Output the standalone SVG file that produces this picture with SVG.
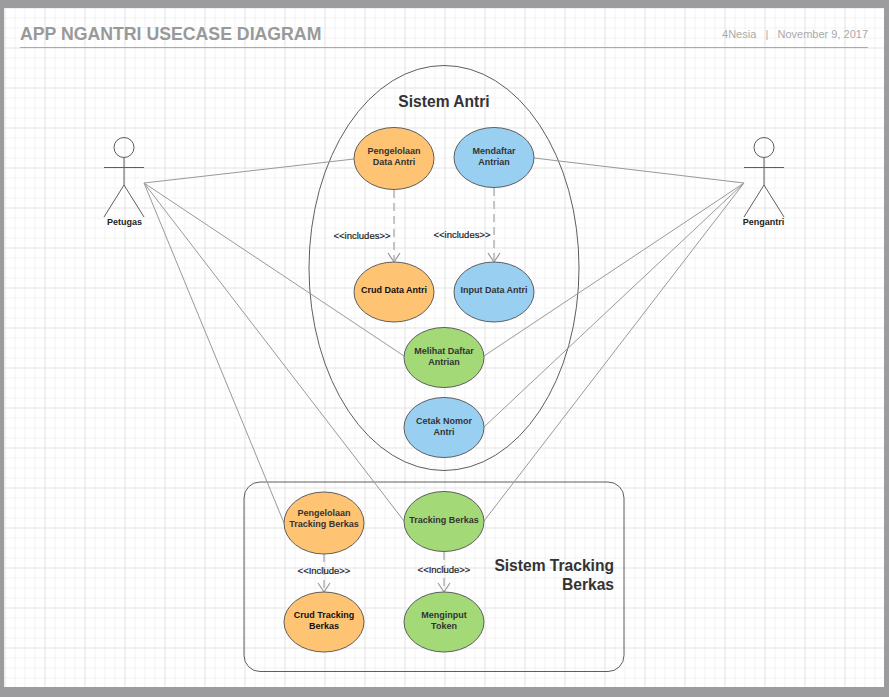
<svg xmlns="http://www.w3.org/2000/svg" width="889" height="697" viewBox="0 0 889 697">
<style>
text{font-family:"Liberation Sans",Arial,sans-serif;text-anchor:middle;fill:#333}
.u{font-size:9px;font-weight:bold}
.l{font-size:9.5px;fill:#222;stroke:#222;stroke-width:.2}
.e{stroke:#5e5e5e;stroke-width:1}
.o{fill:#ffc374}.b{fill:#99d0f2}.g{fill:#a3d977}
.c{stroke:#999;stroke-width:1;fill:none}
.d{stroke:#b8b8b8;stroke-width:1.6;stroke-dasharray:8 5;fill:none}
.a{stroke:#999;stroke-width:1.2;fill:none}
.s{stroke:#5e5e5e;stroke-width:1;fill:none}
.t{font-size:15.6px;font-weight:bold}
</style>
<defs>
<pattern id="minor" width="10" height="10" patternUnits="userSpaceOnUse" x="4.5" y="7.5"><path d="M0 0H10M0 0V10" stroke="#e6e6e6" stroke-width="1" fill="none"/></pattern>
<pattern id="major" width="40" height="40" patternUnits="userSpaceOnUse" x="4.5" y="7.5"><path d="M0 0H40M0 0V40" stroke="#d8d8d8" stroke-width="1" fill="none"/></pattern>
</defs>
<rect width="889" height="697" fill="#9c9c9e"/>
<rect x="4" y="8" width="880" height="679" fill="#fff"/>
<rect x="4" y="8" width="880" height="679" fill="url(#minor)"/>
<rect x="4" y="8" width="880" height="679" fill="url(#major)"/>
<g id="header">
<text x="20" y="39.500" style="text-anchor:start;font-size:17.7px;font-weight:bold;fill:#999">APP NGANTRI USECASE DIAGRAM</text>
<text x="868" y="38" style="text-anchor:end;font-size:11px;fill:#aaa" xml:space="preserve">4Nesia   |   November 9, 2017</text>
<path d="M20 47.5H868" stroke="#aaa" stroke-width="1"/>
</g>
<g id="sistem-antri">
<ellipse cx="444" cy="268" rx="135" ry="202.500" class="s"/>
<text class="t" x="444" y="106.500">Sistem Antri</text>
</g>
<g id="sistem-tracking">
<rect x="244" y="482" width="380" height="189.500" rx="16" class="s"/>
<text class="t" x="614" y="571" style="text-anchor:end">Sistem Tracking</text>
<text class="t" x="614" y="590" style="text-anchor:end">Berkas</text>
</g>
<g id="connectors">
<path class="c" d="M144 183L354 159M144 183L404 356M144 183L404 521M144 183L284 523"/>
<path class="c" d="M744 183L534 158M744 183L484 356M744 183L484 427M744 183L484 521"/>
<path class="d" d="M394 190V260M494 188V260M324 554V590M444 552V590"/>
<path class="a" d="M388 253L394 262L400 253M488 253L494 262L500 253M318 583L324 592L330 583M438 583L444 592L450 583"/>
</g>
<g id="label-includes-1"><text class="l" x="362" y="239">&lt;&lt;includes&gt;&gt;</text></g>
<g id="label-includes-2"><text class="l" x="462" y="238">&lt;&lt;includes&gt;&gt;</text></g>
<g id="label-include-1"><text class="l" x="324" y="574">&lt;&lt;Include&gt;&gt;</text></g>
<g id="label-include-2"><text class="l" x="444" y="573">&lt;&lt;Include&gt;&gt;</text></g>
<g id="petugas">
<circle cx="124" cy="147.500" r="10" class="s" fill="#fff"/>
<path class="s" d="M104 167.500H144M124 157.500V185M124 185L104 217M124 185L144 217"/>
<text x="124.500" y="224.500" style="font-size:9px;font-weight:bold;fill:#222">Petugas</text>
</g>
<g id="pengantri">
<circle cx="764" cy="147.500" r="10" class="s" fill="#fff"/>
<path class="s" d="M744 167.500H784M764 157.500V185M764 185L744 217M764 185L784 217"/>
<text x="763.500" y="224.500" style="font-size:9px;font-weight:bold;fill:#222">Pengantri</text>
</g>
<g id="pengelolaan-data-antri"><ellipse class="e o" cx="394" cy="158.500" rx="40" ry="31"/><text class="u" x="394" y="154">Pengelolaan</text><text class="u" x="394" y="165">Data Antri</text></g>
<g id="mendaftar-antrian"><ellipse class="e b" cx="494" cy="157.500" rx="40" ry="30"/><text class="u" x="494" y="154">Mendaftar</text><text class="u" x="494" y="165">Antrian</text></g>
<g id="crud-data-antri"><ellipse class="e o" cx="394" cy="292" rx="40" ry="30"/><text class="u" x="394" y="293" style="fill:#111">Crud Data Antri</text></g>
<g id="input-data-antri"><ellipse class="e b" cx="494" cy="292" rx="40" ry="30"/><text class="u" x="494" y="293">Input Data Antri</text></g>
<g id="melihat-daftar-antrian"><ellipse class="e g" cx="444" cy="357.500" rx="40" ry="30"/><text class="u" x="444" y="354">Melihat Daftar</text><text class="u" x="444" y="365">Antrian</text></g>
<g id="cetak-nomor-antri"><ellipse class="e b" cx="444" cy="427.500" rx="40" ry="30"/><text class="u" x="444" y="424">Cetak Nomor</text><text class="u" x="444" y="435">Antri</text></g>
<g id="pengelolaan-tracking-berkas"><ellipse class="e o" cx="324" cy="523" rx="40" ry="31"/><text class="u" x="324" y="516">Pengelolaan</text><text class="u" x="324" y="527">Tracking Berkas</text></g>
<g id="tracking-berkas"><ellipse class="e g" cx="444" cy="521.500" rx="40" ry="30"/><text class="u" x="444" y="523">Tracking Berkas</text></g>
<g id="crud-tracking-berkas"><ellipse class="e o" cx="324" cy="622" rx="40" ry="30"/><text class="u" x="324" y="618" style="fill:#111">Crud Tracking</text><text class="u" x="324" y="629" style="fill:#111">Berkas</text></g>
<g id="menginput-token"><ellipse class="e g" cx="444" cy="622" rx="40" ry="30"/><text class="u" x="444" y="618">Menginput</text><text class="u" x="444" y="629">Token</text></g>
</svg>
